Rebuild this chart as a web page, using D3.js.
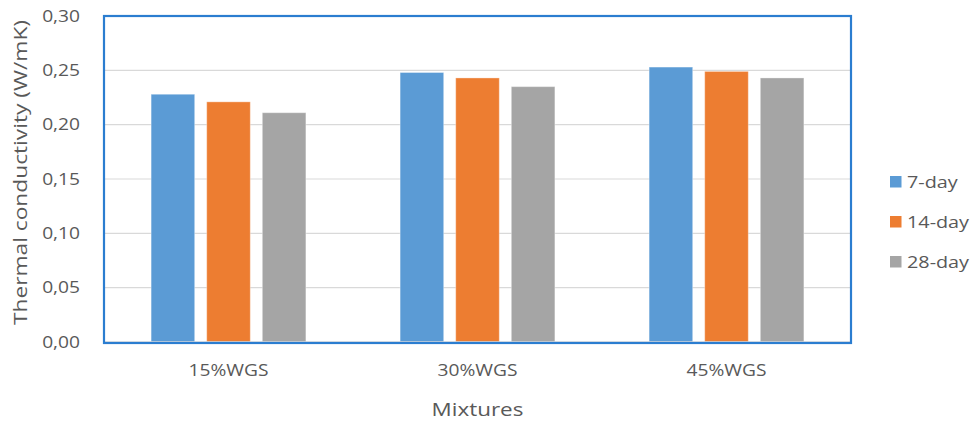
<!DOCTYPE html>
<html>
<head>
<meta charset="utf-8">
<script src="https://cdn.jsdelivr.net/npm/d3@7"></script>
<style>
  body { margin: 0; background: #fff; }
  svg { display: block; font-family: "Open Sans", sans-serif; }
</style>
</head>
<body>
<svg id="chart" width="974" height="423"></svg>
<script>
// Thermal conductivity by mixture and curing age
const mixtures = ["15%WGS", "30%WGS", "45%WGS"];
const seriesNames = ["7-day", "14-day", "28-day"];
const day7 = [0.228, 0.248, 0.253];
const day14 = [0.221, 0.243, 0.249];
const day28 = [0.211, 0.235, 0.243];
const yTicks = [0, 0.05, 0.10, 0.15, 0.20, 0.25, 0.30];
const colors = ["#5b9bd5", "#ed7d31", "#a5a5a5"];

const seriesValues = [day7, day14, day28];
const textColor = "#595959";
const wide = 1.2; // horizontal widening of the label glyphs

const svg = d3.select("#chart");
const plot = { left: 104, right: 851, top: 16, bottom: 342 };

const x = d3.scaleBand().domain(mixtures).range([plot.left, plot.right]).padding(0);
const y = d3.scaleLinear().domain([0, 0.30]).range([plot.bottom, plot.top]);

const barW = x.bandwidth() * 0.175;
const barGap = barW * 0.276;
const inner = d3.scaleBand().domain(seriesNames)
  .range([-(1.5 * barW + barGap), 1.5 * barW + barGap])
  .paddingInner(barGap / (barW + barGap)).paddingOuter(0);

const fmt = v => d3.format(".2f")(v).replace(".", ",");

// text helper: places a label and widens it along its reading direction
function label(parent, tx, ty, str, size, anchor) {
  return parent.append("text")
    .attr("transform", `translate(${tx},${ty}) scale(${wide},1)`)
    .attr("text-anchor", anchor)
    .attr("font-size", size)
    .attr("fill", textColor)
    .text(str);
}

// horizontal gridlines
svg.append("g").selectAll("line").data(yTicks.slice(1)).join("line")
  .attr("x1", plot.left).attr("x2", plot.right)
  .attr("y1", d => y(d)).attr("y2", d => y(d))
  .attr("stroke", "#d9d9d9").attr("stroke-width", 1.2);

// bars
const groups = svg.append("g").selectAll("g").data(mixtures).join("g")
  .attr("transform", d => `translate(${x(d) + x.bandwidth() / 2},0)`);
groups.selectAll("rect")
  .data((m, i) => seriesNames.map((s, j) => ({ s, j, v: seriesValues[j][i] })))
  .join("rect")
  .attr("x", d => inner(d.s))
  .attr("width", inner.bandwidth())
  .attr("y", d => y(d.v))
  .attr("height", d => y(0) - y(d.v))
  .attr("fill", d => colors[d.j])
  .attr("stroke", "rgba(255,255,255,0.35)")
  .attr("stroke-width", 1);

// baseline
svg.append("line")
  .attr("x1", plot.left).attr("x2", plot.right)
  .attr("y1", y(0)).attr("y2", y(0))
  .attr("stroke", "#d9d9d9").attr("stroke-width", 1.5);

// plot area frame
svg.append("rect")
  .attr("x", plot.left).attr("y", plot.top)
  .attr("width", plot.right - plot.left).attr("height", plot.bottom - plot.top + 1)
  .attr("fill", "none").attr("stroke", "#2b7dd0").attr("stroke-width", 2.2);

// y tick labels
const yg = svg.append("g");
yTicks.forEach(t => label(yg, 80, y(t) + 5.7, fmt(t), 16, "end"));

// x tick labels
const xg = svg.append("g");
mixtures.forEach(m => label(xg, x(m) + x.bandwidth() / 2, 376, m, 16, "middle"));

// axis titles
label(svg, (plot.left + plot.right) / 2, 416, "Mixtures", 18.7, "middle");
svg.append("text")
  .attr("transform", "translate(27,172.5) rotate(-90)")
  .attr("text-anchor", "middle").attr("font-size", 18.7).attr("fill", textColor)
  .attr("textLength", 305).attr("lengthAdjust", "spacingAndGlyphs")
  .text("Thermal conductivity (W/mK)");

// legend
const legend = svg.append("g").attr("transform", "translate(890,182)");
const items = legend.selectAll("g").data(seriesNames).join("g")
  .attr("transform", (d, i) => `translate(0,${i * 40})`);
items.append("rect").attr("x", 0).attr("y", -6).attr("width", 11.5).attr("height", 11.5)
  .attr("fill", (d, i) => colors[i]);
items.each(function (d) {
  label(d3.select(this), 17, 6, d, 16.5, "start");
});
</script>
</body>
</html>
